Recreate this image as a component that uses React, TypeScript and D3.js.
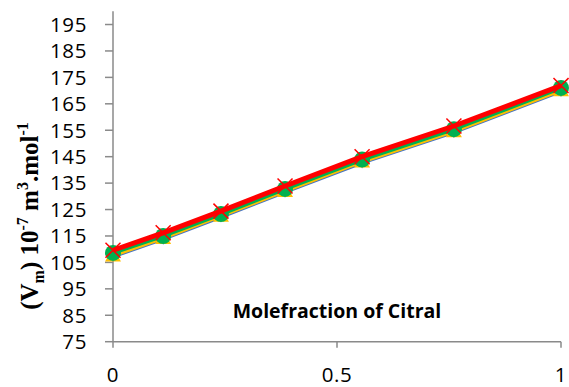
import React from "react";
import * as d3 from "d3";

const xValues = [0, 0.112, 0.241, 0.384, 0.556, 0.761, 1];
const blueSeries = [107.0, 113.6, 122.0, 131.4, 142.5, 154.0, 169.5];
const yellowSeries = [107.5, 114.1, 122.5, 131.9, 143.0, 154.5, 170.0];
const greenSeries = [108.6, 115.0, 123.3, 132.8, 143.9, 155.4, 171.0];
const redSeries = [109.6, 116.2, 124.4, 133.9, 145.0, 156.6, 171.9];
const yTicks = [75, 85, 95, 105, 115, 125, 135, 145, 155, 165, 175, 185, 195];
const xTicks = [0, 0.5, 1];
const xTickLabels = ["0", "0.5", "1"];

const W = 569;
const H = 387;

export default function App() {
  const x = d3.scaleLinear().domain([0, 1]).range([113, 561]);
  const y = d3.scaleLinear().domain([75, 200]).range([341.7, 11.3]);
  const line = (vals: number[]) =>
    d3.line<number>().x((_, i) => x(xValues[i])).y((v) => y(v))(vals) || "";

  const axisColor = "#8a8a8a";
  const tickFont = "'Open Sans', 'Noto Sans', sans-serif";

  return (
    <svg
      width={W}
      height={H}
      style={{ position: "absolute", left: 0, top: 0, background: "#fff" }}
    >
      {/* axes */}
      <line x1={x(0)} x2={x(0)} y1={y(200)} y2={y(75)} stroke={axisColor} strokeWidth={1.5} />
      <line x1={x(0)} x2={x(1)} y1={y(75)} y2={y(75)} stroke={axisColor} strokeWidth={1.5} />
      {yTicks.map((t) => (
        <g key={t}>
          <line x1={x(0) - 8} x2={x(0)} y1={y(t)} y2={y(t)} stroke={axisColor} strokeWidth={1.5} />
          <text
            x={87}
            y={y(t)}
            dy="0.36em"
            textAnchor="end"
            fontFamily={tickFont}
            fontSize={20.5}
            letterSpacing={0.6}
            fill="#000"
          >
            {t}
          </text>
        </g>
      ))}
      {xTicks.map((t, i) => (
        <g key={t}>
          <line x1={x(t)} x2={x(t)} y1={y(75)} y2={y(75) + 6} stroke={axisColor} strokeWidth={1.5} />
          <text
            x={x(t)}
            y={375}
            dy="0.36em"
            textAnchor="middle"
            fontFamily={tickFont}
            fontSize={20.5}
            letterSpacing={0.6}
            fill="#000"
          >
            {xTickLabels[i]}
          </text>
        </g>
      ))}

      {/* x title */}
      <text
        x={337}
        y={318}
        textAnchor="middle"
        fontFamily={tickFont}
        fontWeight="bold"
        fontSize={19.5}
        fill="#000"
      >
        Molefraction of Citral
      </text>

      {/* y title */}
      <text
        transform="translate(38,216) rotate(-90)"
        textAnchor="middle"
        fontFamily="'Liberation Serif', 'Times New Roman', serif"
        fontWeight="bold"
        fontSize={25}
        fill="#000"
      >
        (V<tspan fontSize={16} dy={6}>m</tspan>
        <tspan dy={-6}>) 10</tspan>
        <tspan fontSize={16} dy={-10}>-7</tspan>
        <tspan dy={10}> m</tspan>
        <tspan fontSize={16} dy={-10}>3</tspan>
        <tspan dy={10}>.mol</tspan>
        <tspan fontSize={16} dy={-10}>-1</tspan>
      </text>

      {/* series: blue */}
      <path d={line(blueSeries)} fill="none" stroke="#4472C4" strokeWidth={2.5} />
      {blueSeries.map((v, i) => (
        <path
          key={"b" + i}
          d={d3.symbol(d3.symbolDiamond, 30)() || ""}
          transform={`translate(${x(xValues[i])},${y(v)})`}
          fill="#4472C4"
        />
      ))}
      {/* yellow */}
      <path d={line(yellowSeries)} fill="none" stroke="#FFC000" strokeWidth={3} />
      {yellowSeries.map((v, i) => (
        <path
          key={"y" + i}
          d={d3.symbol(d3.symbolTriangle, 110)() || ""}
          transform={`translate(${x(xValues[i])},${y(v) + 1})`}
          fill="#FFC000"
        />
      ))}
      {/* green */}
      <path d={line(greenSeries)} fill="none" stroke="#00B050" strokeWidth={4} />
      {greenSeries.map((v, i) => (
        <circle key={"g" + i} cx={x(xValues[i])} cy={y(v)} r={8} fill="#00B050" />
      ))}
      {/* red */}
      <path d={line(redSeries)} fill="none" stroke="#FF0000" strokeWidth={5} />
      {redSeries.map((v, i) => {
        const cx = x(xValues[i]);
        const cy = y(v);
        const s = 7.5;
        return (
          <g key={"r" + i} stroke="#FF0000" strokeWidth={1.5}>
            <line x1={cx - s} y1={cy - s} x2={cx + s} y2={cy + s} />
            <line x1={cx - s} y1={cy + s} x2={cx + s} y2={cy - s} />
          </g>
        );
      })}
    </svg>
  );
}
